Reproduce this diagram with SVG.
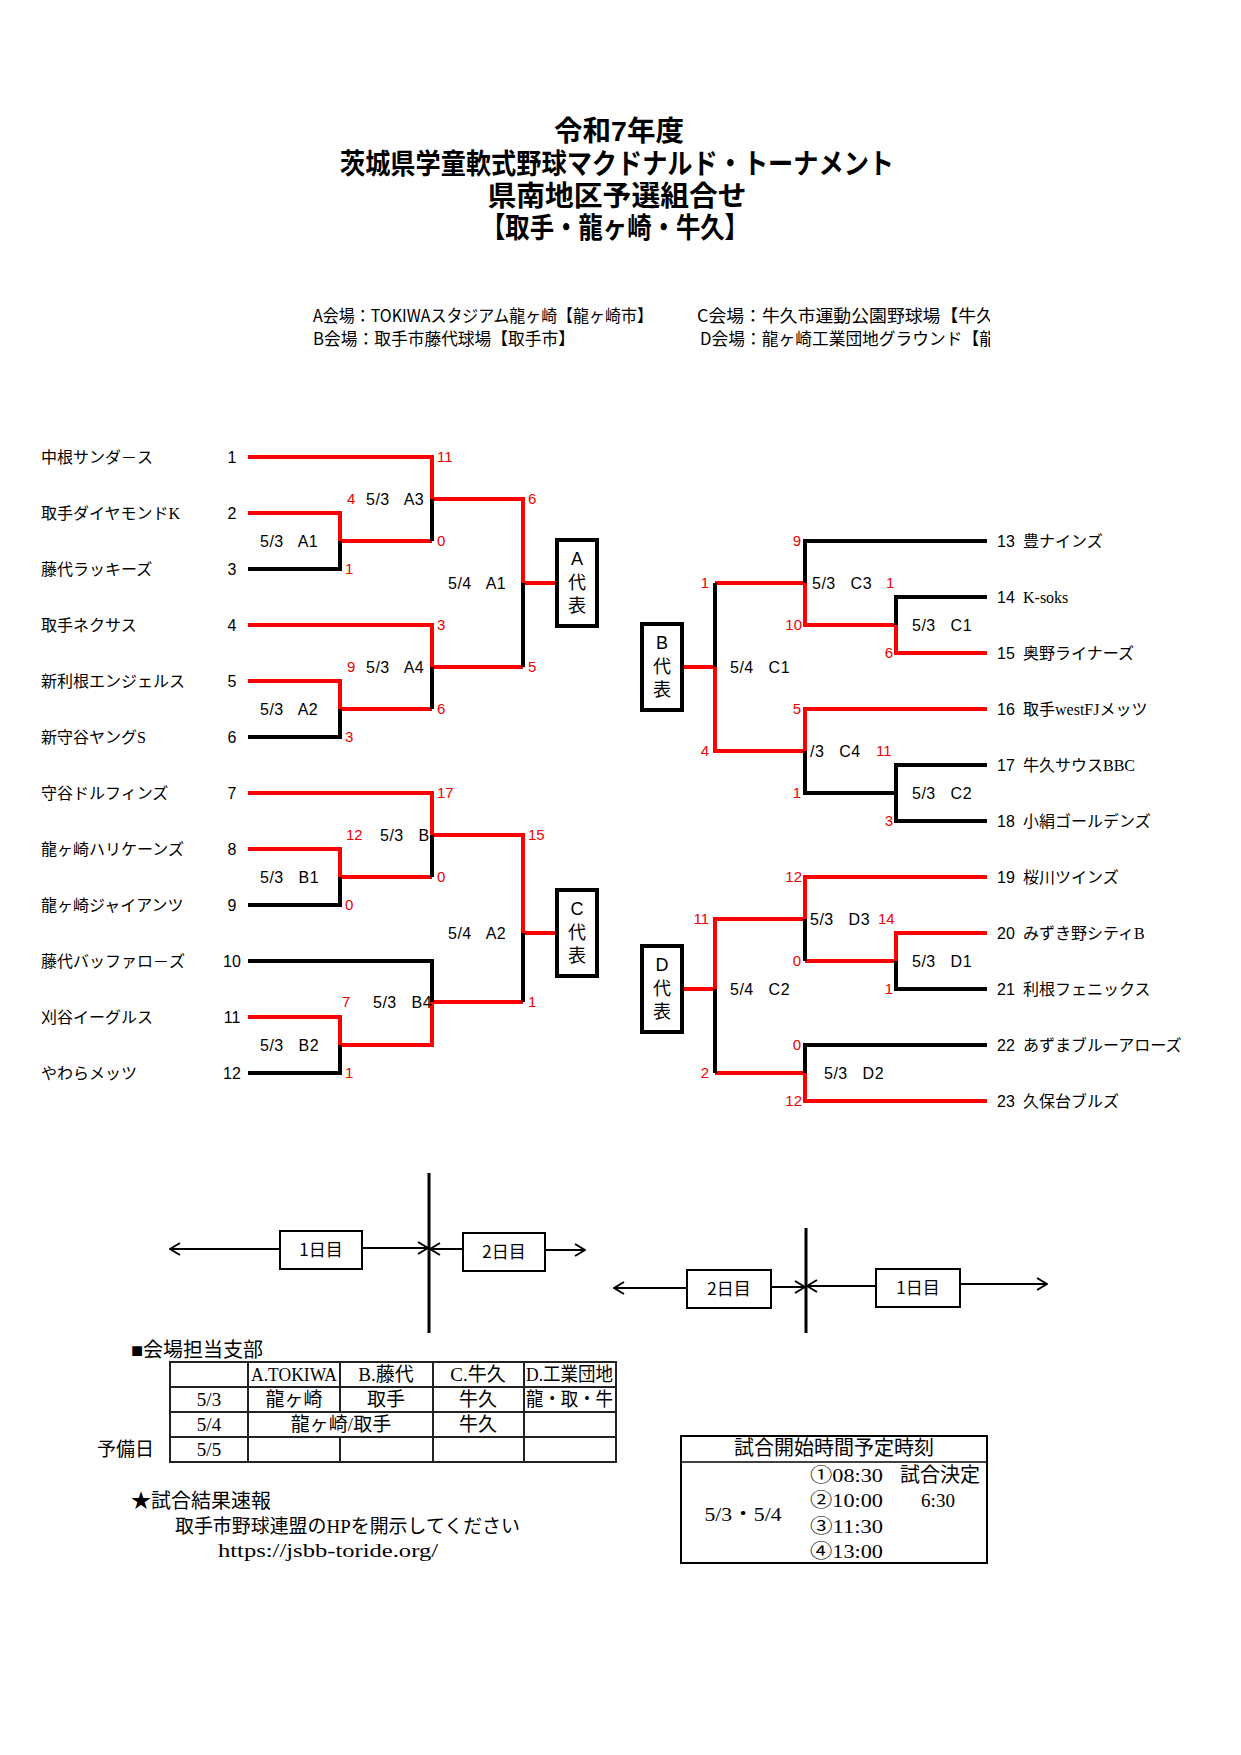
<svg xmlns="http://www.w3.org/2000/svg" width="1241" height="1755" viewBox="0 0 1241 1755">
<defs>
<style>
.bg{fill:#fff}
.ln{fill:none;stroke-width:4;stroke-linejoin:miter;stroke-linecap:butt}
.r{stroke:#f00}
.k{stroke:#000}
.tn{font-family:"Liberation Serif","Noto Sans CJK JP",serif;font-size:16px;fill:#000}
.no{font-family:"Liberation Sans","Noto Sans CJK JP",sans-serif;font-size:16px;fill:#000}
.sc{font-family:"Liberation Sans",sans-serif;font-size:15px;fill:#e00}
.lbl{font-family:"Liberation Sans",sans-serif;font-size:16px;white-space:pre;letter-spacing:0.5px;fill:#000}
.rep{fill:#fff;stroke:#000;stroke-width:4}
.bt{font-family:"Liberation Sans","Noto Sans CJK JP",sans-serif;font-size:18px;text-anchor:middle;fill:#000}
.ttl{font-family:"Liberation Sans","Noto Sans CJK JP",sans-serif;font-size:28.5px;font-weight:bold;text-anchor:middle;fill:#000}
.ven{font-family:"Noto Sans CJK JP",sans-serif;font-size:17px;fill:#000}
.day{fill:#fff;stroke:#000;stroke-width:2}
.dt{font-family:"Noto Sans CJK JP",sans-serif;font-size:17px;text-anchor:middle;fill:#000}
.arr{stroke:#000;stroke-width:2;fill:none}
.vl{stroke:#000;stroke-width:3}
.tb{font-family:"Liberation Serif","Noto Sans CJK JP",serif;font-size:19px;fill:#000}
.mid{text-anchor:middle}
.grid{stroke:#222;stroke-width:2;fill:none}
</style>
<marker id="ah" viewBox="0 0 12 14" refX="11" refY="7" markerWidth="12" markerHeight="14" markerUnits="userSpaceOnUse" orient="auto">
<path d="M1,1 L11,7 L1,13" fill="none" stroke="#000" stroke-width="2"/>
</marker>
<clipPath id="vclip"><rect x="0" y="280" width="990" height="90"/></clipPath>
</defs>
<rect class="bg" x="0" y="0" width="1241" height="1755"/>

<g id="title">
<text class="ttl" x="619" y="141" textLength="130" lengthAdjust="spacingAndGlyphs">令和7年度</text>
<text class="ttl" x="617" y="174" textLength="554" lengthAdjust="spacingAndGlyphs">茨城県学童軟式野球マクドナルド・トーナメント</text>
<text class="ttl" x="617" y="206" textLength="259" lengthAdjust="spacingAndGlyphs">県南地区予選組合せ</text>
<text class="ttl" x="615" y="238" textLength="268" lengthAdjust="spacingAndGlyphs">【取手・龍ヶ崎・牛久】</text>
</g>

<g id="venues" clip-path="url(#vclip)">
<text class="ven" x="313" y="322" textLength="340" lengthAdjust="spacingAndGlyphs">A会場：TOKIWAスタジアム龍ヶ崎【龍ヶ崎市】</text>
<text class="ven" x="313" y="345" textLength="262" lengthAdjust="spacingAndGlyphs">B会場：取手市藤代球場【取手市】</text>
<text class="ven" x="697" y="322" textLength="297" lengthAdjust="spacingAndGlyphs">C会場：牛久市運動公園野球場【牛久</text>
<text class="ven" x="700" y="345" textLength="296" lengthAdjust="spacingAndGlyphs">D会場：龍ヶ崎工業団地グラウンド【龍</text>
</g>

<g id="connectors">
<path class="ln r" d="M248,457 H432 V499 H523 V583 H557"/>
<path class="ln r" d="M248,513 H340 V541 H432"/>
<path class="ln r" d="M248,625 H432 V667 H523"/>
<path class="ln r" d="M248,681 H340 V709 H432"/>
<path class="ln k" d="M432,499 V541"/>
<path class="ln k" d="M248,569 H340 V541"/>
<path class="ln k" d="M523,583 V667"/>
<path class="ln k" d="M432,667 V709"/>
<path class="ln k" d="M248,737 H340 V709"/>

<path class="ln r" d="M248,793 H432 V835 H523 V933 H557"/>
<path class="ln r" d="M248,849 H340 V877 H432"/>
<path class="ln r" d="M248,1017 H340 V1045 H432 V1002 H523"/>
<path class="ln k" d="M432,835 V877"/>
<path class="ln k" d="M248,905 H340 V877"/>
<path class="ln k" d="M248,961 H432 V1002"/>
<path class="ln k" d="M523,933 V1002"/>
<path class="ln k" d="M248,1073 H340 V1045"/>

<path class="ln r" d="M987,653 H896 V625 H805 V583 H715"/>
<path class="ln r" d="M682,667 H715 V751 H805 V709 H987"/>
<path class="ln k" d="M987,541 H805 V583"/>
<path class="ln k" d="M987,597 H896 V625"/>
<path class="ln k" d="M715,583 V667"/>
<path class="ln k" d="M805,751 V793 H896"/>
<path class="ln k" d="M987,765 H896 V821 H987"/>

<path class="ln r" d="M987,877 H805 V919 H715 V989 H682"/>
<path class="ln r" d="M987,933 H896 V961 H805"/>
<path class="ln r" d="M987,1101 H805 V1073 H715"/>
<path class="ln k" d="M805,919 V961"/>
<path class="ln k" d="M896,961 V989 H987"/>
<path class="ln k" d="M715,989 V1073"/>
<path class="ln k" d="M987,1045 H805 V1073"/>
</g>

<g id="match-labels">
<text class="lbl" x="260" y="547">5/3   A1</text>
<text class="lbl" x="260" y="715">5/3   A2</text>
<text class="lbl" x="366" y="505">5/3   A3</text>
<text class="lbl" x="366" y="673">5/3   A4</text>
<text class="lbl" x="448" y="589">5/4   A1</text>
<text class="lbl" x="260" y="883">5/3   B1</text>
<text class="lbl" x="260" y="1051">5/3   B2</text>
<text class="lbl" x="380" y="841">5/3   B</text>
<text class="lbl" x="373" y="1008">5/3   B4</text>
<text class="lbl" x="448" y="939">5/4   A2</text>
<text class="lbl" x="812" y="589">5/3   C3</text>
<text class="lbl" x="912" y="631">5/3   C1</text>
<text class="lbl" x="730" y="673">5/4   C1</text>
<text class="lbl" x="810" y="757">/3   C4</text>
<text class="lbl" x="912" y="799">5/3   C2</text>
<text class="lbl" x="810" y="925">5/3   D3</text>
<text class="lbl" x="912" y="967">5/3   D1</text>
<text class="lbl" x="730" y="995">5/4   C2</text>
<text class="lbl" x="824" y="1079">5/3   D2</text>
</g>

<g id="scores">
<text class="sc" x="437" y="462">11</text>
<text class="sc" x="347" y="504">4</text>
<text class="sc" x="437" y="546">0</text>
<text class="sc" x="345" y="574">1</text>
<text class="sc" x="528" y="504">6</text>
<text class="sc" x="437" y="630">3</text>
<text class="sc" x="347" y="672">9</text>
<text class="sc" x="528" y="672">5</text>
<text class="sc" x="437" y="714">6</text>
<text class="sc" x="345" y="742">3</text>
<text class="sc" x="437" y="798">17</text>
<text class="sc" x="346" y="840">12</text>
<text class="sc" x="437" y="882">0</text>
<text class="sc" x="345" y="910">0</text>
<text class="sc" x="528" y="840">15</text>
<text class="sc" x="342" y="1007">7</text>
<text class="sc" x="345" y="1078">1</text>
<text class="sc" x="528" y="1007">1</text>
<g text-anchor="end">
<text class="sc" x="801" y="546">9</text>
<text class="sc" x="709" y="588">1</text>
<text class="sc" x="802" y="630">10</text>
<text class="sc" x="893" y="658">6</text>
<text class="sc" x="709" y="756">4</text>
<text class="sc" x="801" y="714">5</text>
<text class="sc" x="801" y="798">1</text>
<text class="sc" x="893" y="826">3</text>
<text class="sc" x="802" y="882">12</text>
<text class="sc" x="709" y="924">11</text>
<text class="sc" x="801" y="966">0</text>
<text class="sc" x="893" y="994">1</text>
<text class="sc" x="801" y="1050">0</text>
<text class="sc" x="709" y="1078">2</text>
<text class="sc" x="802" y="1106">12</text>
</g>
<text class="sc" x="886" y="588">1</text>
<text class="sc" x="876" y="756">11</text>
<text class="sc" x="878" y="924">14</text>
</g>

<g id="rep-A"><rect class="rep" x="557" y="540" width="40" height="86"/><text class="bt" x="577" y="565">A</text><text class="bt" x="577" y="589">代</text><text class="bt" x="577" y="612">表</text></g>
<g id="rep-C"><rect class="rep" x="557" y="890" width="40" height="86"/><text class="bt" x="577" y="915">C</text><text class="bt" x="577" y="939">代</text><text class="bt" x="577" y="962">表</text></g>
<g id="rep-B"><rect class="rep" x="642" y="624" width="40" height="86"/><text class="bt" x="662" y="649">B</text><text class="bt" x="662" y="673">代</text><text class="bt" x="662" y="696">表</text></g>
<g id="rep-D"><rect class="rep" x="642" y="946" width="40" height="86"/><text class="bt" x="662" y="971">D</text><text class="bt" x="662" y="995">代</text><text class="bt" x="662" y="1018">表</text></g>

<g id="teams-left">
<g id="team-1"><text class="tn" x="41" y="463">中根サンダ－ス</text><text class="no mid" x="232" y="463">1</text></g>
<g id="team-2"><text class="tn" x="41" y="519">取手ダイヤモンドK</text><text class="no mid" x="232" y="519">2</text></g>
<g id="team-3"><text class="tn" x="41" y="575">藤代ラッキーズ</text><text class="no mid" x="232" y="575">3</text></g>
<g id="team-4"><text class="tn" x="41" y="631">取手ネクサス</text><text class="no mid" x="232" y="631">4</text></g>
<g id="team-5"><text class="tn" x="41" y="687">新利根エンジェルス</text><text class="no mid" x="232" y="687">5</text></g>
<g id="team-6"><text class="tn" x="41" y="743">新守谷ヤングS</text><text class="no mid" x="232" y="743">6</text></g>
<g id="team-7"><text class="tn" x="41" y="799">守谷ドルフィンズ</text><text class="no mid" x="232" y="799">7</text></g>
<g id="team-8"><text class="tn" x="41" y="855">龍ヶ崎ハリケーンズ</text><text class="no mid" x="232" y="855">8</text></g>
<g id="team-9"><text class="tn" x="41" y="911">龍ヶ崎ジャイアンツ</text><text class="no mid" x="232" y="911">9</text></g>
<g id="team-10"><text class="tn" x="41" y="967">藤代バッファロ－ズ</text><text class="no mid" x="232" y="967">10</text></g>
<g id="team-11"><text class="tn" x="41" y="1023">刈谷イーグルス</text><text class="no mid" x="232" y="1023">11</text></g>
<g id="team-12"><text class="tn" x="41" y="1079">やわらメッツ</text><text class="no mid" x="232" y="1079">12</text></g>
</g>

<g id="teams-right">
<g id="team-13"><text class="no" x="997" y="547">13</text><text class="tn" x="1023" y="547">豊ナインズ</text></g>
<g id="team-14"><text class="no" x="997" y="603">14</text><text class="tn" x="1023" y="603">K-soks</text></g>
<g id="team-15"><text class="no" x="997" y="659">15</text><text class="tn" x="1023" y="659">奥野ライナーズ</text></g>
<g id="team-16"><text class="no" x="997" y="715">16</text><text class="tn" x="1023" y="715">取手westFJメッツ</text></g>
<g id="team-17"><text class="no" x="997" y="771">17</text><text class="tn" x="1023" y="771">牛久サウスBBC</text></g>
<g id="team-18"><text class="no" x="997" y="827">18</text><text class="tn" x="1023" y="827">小絹ゴールデンズ</text></g>
<g id="team-19"><text class="no" x="997" y="883">19</text><text class="tn" x="1023" y="883">桜川ツインズ</text></g>
<g id="team-20"><text class="no" x="997" y="939">20</text><text class="tn" x="1023" y="939">みずき野シティB</text></g>
<g id="team-21"><text class="no" x="997" y="995">21</text><text class="tn" x="1023" y="995">利根フェニックス</text></g>
<g id="team-22"><text class="no" x="997" y="1051">22</text><text class="tn" x="1023" y="1051">あずまブルーアローズ</text></g>
<g id="team-23"><text class="no" x="997" y="1107">23</text><text class="tn" x="1023" y="1107">久保台ブルズ</text></g>
</g>

<g id="day-arrows">
<line class="vl" x1="429" y1="1173" x2="429" y2="1333"/>
<line class="vl" x1="806" y1="1228" x2="806" y2="1333"/>
<line class="arr" x1="280" y1="1249" x2="170" y2="1249" marker-end="url(#ah)"/>
<line class="arr" x1="362" y1="1248" x2="428" y2="1248" marker-end="url(#ah)"/>
<line class="arr" x1="463" y1="1249" x2="430" y2="1249" marker-end="url(#ah)"/>
<line class="arr" x1="545" y1="1250" x2="585" y2="1250" marker-end="url(#ah)"/>
<line class="arr" x1="687" y1="1288" x2="614" y2="1288" marker-end="url(#ah)"/>
<line class="arr" x1="771" y1="1287" x2="805" y2="1287" marker-end="url(#ah)"/>
<line class="arr" x1="876" y1="1286" x2="807" y2="1286" marker-end="url(#ah)"/>
<line class="arr" x1="960" y1="1284" x2="1047" y2="1284" marker-end="url(#ah)"/>
<g id="day1-left"><rect class="day" x="280" y="1231" width="82" height="38"/><text class="dt" x="321" y="1256">1日目</text></g>
<g id="day2-left"><rect class="day" x="463" y="1233" width="82" height="38"/><text class="dt" x="504" y="1258">2日目</text></g>
<g id="day2-right"><rect class="day" x="687" y="1270" width="84" height="38"/><text class="dt" x="729" y="1295">2日目</text></g>
<g id="day1-right"><rect class="day" x="876" y="1269" width="84" height="38"/><text class="dt" x="918" y="1294">1日目</text></g>
</g>

<g id="venue-table">
<text class="tb" x="131" y="1357" style="font-size:20px">■会場担当支部</text>
<rect class="grid" x="170" y="1362" width="446" height="100"/>
<path class="grid" d="M170,1387 H616 M170,1412 H616 M170,1437 H616 M248,1362 V1462 M340,1362 V1412 M340,1437 V1462 M433,1362 V1462 M524,1362 V1462"/>
<text class="tb" x="251" y="1381" textLength="86" lengthAdjust="spacingAndGlyphs">A.TOKIWA</text>
<text class="tb mid" x="386" y="1381">B.藤代</text>
<text class="tb mid" x="478" y="1381">C.牛久</text>
<text class="tb" x="526" y="1381" textLength="87" lengthAdjust="spacingAndGlyphs">D.工業団地</text>
<text class="tb mid" x="209" y="1406">5/3</text>
<text class="tb mid" x="294" y="1406">龍ヶ崎</text>
<text class="tb mid" x="386" y="1406">取手</text>
<text class="tb mid" x="478" y="1406">牛久</text>
<text class="tb" x="526" y="1406" textLength="87" lengthAdjust="spacingAndGlyphs">龍・取・牛</text>
<text class="tb mid" x="209" y="1431">5/4</text>
<text class="tb mid" x="341" y="1431">龍ヶ崎/取手</text>
<text class="tb mid" x="478" y="1431">牛久</text>
<text class="tb mid" x="209" y="1456">5/5</text>
<text class="tb" x="97" y="1456">予備日</text>
</g>

<g id="results-note">
<text class="tb" x="131" y="1508" style="font-size:20px">★試合結果速報</text>
<text class="tb" x="175" y="1533" textLength="345" lengthAdjust="spacingAndGlyphs">取手市野球連盟のHPを開示してください</text>
<text class="tb" x="218" y="1557" textLength="220" lengthAdjust="spacingAndGlyphs">https://jsbb-toride.org/</text>
</g>

<g id="time-table">
<rect x="681" y="1436" width="306" height="127" fill="#fff" stroke="#000" stroke-width="2"/>
<line x1="681" y1="1462" x2="987" y2="1462" stroke="#000" stroke-width="1.5"/>
<text class="tb mid" x="834" y="1455" style="font-size:20px">試合開始時間予定時刻</text>
<text class="tb mid" x="743" y="1521" textLength="77" lengthAdjust="spacingAndGlyphs">5/3・5/4</text>
<text class="tb" x="810" y="1482" textLength="73" lengthAdjust="spacingAndGlyphs">①08:30</text>
<text class="tb" x="810" y="1507" textLength="73" lengthAdjust="spacingAndGlyphs">②10:00</text>
<text class="tb" x="810" y="1533" textLength="73" lengthAdjust="spacingAndGlyphs">③11:30</text>
<text class="tb" x="810" y="1558" textLength="73" lengthAdjust="spacingAndGlyphs">④13:00</text>
<text class="tb" x="900" y="1482" style="font-size:20px">試合決定</text>
<text class="tb mid" x="938" y="1507">6:30</text>
</g>
</svg>
